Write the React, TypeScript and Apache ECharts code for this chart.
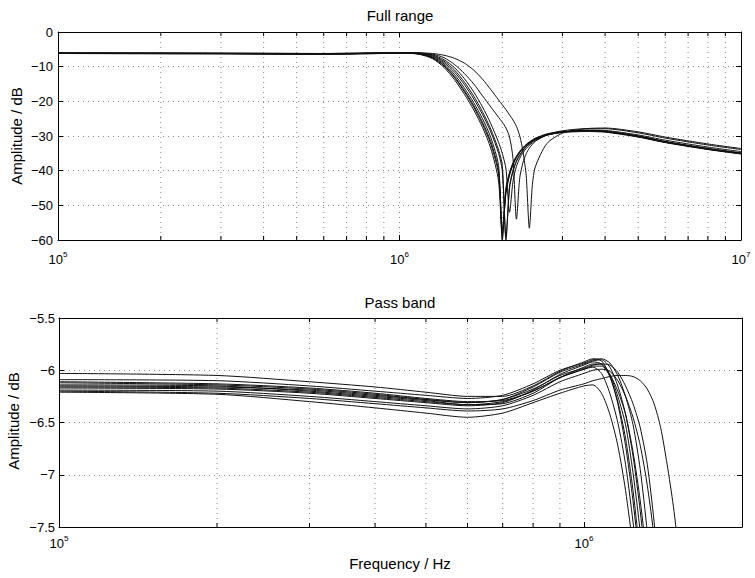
import { useEffect, useRef } from 'react';
import * as echarts from 'echarts';

// ---------- Data ----------
const FREQ_FULL = [1e5, 3e5, 6e5, 9e5, 1.05e6, 1.15e6, 1.25e6, 1.35e6, 1.45e6, 1.55e6, 1.65e6, 1.75e6, 1.85e6, 1.95e6, 2.0e6, 2.05e6, 2.1e6, 2.15e6, 2.2e6, 2.25e6, 2.3e6, 2.35e6, 2.4e6, 2.45e6, 2.5e6, 2.7e6, 3.0e6, 3.5e6, 4.0e6, 5.0e6, 6.0e6, 8.0e6, 1e7];

const FULL_B1 = [-6.1, -6.2, -6.3, -6.1, -6.0, -6.4, -7.5, -9.8, -13.2, -17.3, -21.7, -26.6, -32.3, -41.0, -59.0, -46.0, -41.0, -38.0, -36.0, -34.6, -33.5, -32.6, -31.9, -31.3, -30.8, -29.6, -28.8, -28.5, -28.7, -30.1, -31.7, -33.7, -35.0];
const FULL_B2 = [-6.2, -6.3, -6.4, -6.2, -6.1, -6.5, -7.7, -10.2, -13.8, -18.0, -22.5, -27.5, -33.5, -43.0, -60.0, -45.0, -40.5, -37.7, -35.8, -34.4, -33.3, -32.4, -31.7, -31.1, -30.6, -29.4, -28.7, -28.4, -28.6, -30.0, -31.6, -33.6, -34.9];
const FULL_B3 = [-6.0, -6.1, -6.2, -6.0, -5.95, -6.2, -7.0, -8.8, -11.6, -15.2, -19.3, -23.8, -28.8, -35.0, -40.0, -59.0, -45.0, -40.2, -37.4, -35.6, -34.2, -33.1, -32.3, -31.6, -31.0, -29.6, -28.8, -28.4, -28.6, -30.0, -31.6, -33.6, -34.9];
const FULL_B4 = [-6.1, -6.2, -6.3, -6.1, -6.0, -6.4, -7.4, -9.6, -12.9, -16.9, -21.2, -26.0, -31.6, -40.0, -57.0, -45.5, -40.8, -38.0, -36.1, -34.7, -33.6, -32.7, -32.0, -31.4, -30.9, -29.7, -29.0, -28.7, -28.9, -30.3, -31.9, -33.9, -35.2];
const FULL_B5 = [-6.2, -6.2, -6.3, -6.1, -5.95, -6.15, -6.8, -8.4, -11.0, -14.5, -18.5, -23.0, -28.0, -34.0, -38.5, -60.0, -44.5, -39.8, -37.1, -35.4, -34.1, -33.1, -32.3, -31.6, -31.1, -29.7, -28.9, -28.5, -28.7, -30.2, -31.8, -33.8, -35.1];
const FULL_B6 = [-6.1, -6.1, -6.2, -6.0, -6.0, -6.3, -7.2, -9.2, -12.3, -16.2, -20.4, -25.0, -30.4, -38.5, -58.0, -46.5, -41.3, -38.3, -36.2, -34.7, -33.5, -32.6, -31.9, -31.3, -30.8, -29.6, -28.8, -28.5, -28.7, -30.2, -31.8, -33.8, -35.1];
const FULL_B7 = [-6.1, -6.2, -6.3, -6.1, -5.95, -6.1, -6.6, -8.0, -10.3, -13.5, -17.3, -21.6, -26.4, -31.8, -35.0, -39.5, -52.0, -43.0, -38.8, -36.4, -34.8, -33.6, -32.7, -32.0, -31.4, -29.8, -28.9, -28.3, -28.4, -29.7, -31.2, -33.2, -34.5];
const FULL_T6 = [-6.1, -6.2, -6.3, -6.1, -5.95, -6.05, -6.4, -7.4, -9.4, -12.0, -15.0, -18.4, -21.6, -24.6, -26.0, -27.7, -30.3, -36.5, -54.0, -42.0, -37.6, -35.1, -33.5, -32.4, -31.5, -29.6, -28.5, -27.9, -27.9, -29.1, -30.6, -32.6, -33.9];
const FULL_T7 = [-6.2, -6.3, -6.4, -6.2, -6.1, -6.05, -6.2, -6.7, -7.6, -9.0, -11.0, -13.6, -16.6, -19.6, -21.0, -22.4, -23.9, -25.4, -27.2, -30.0, -34.5, -41.5, -56.6, -44.0, -38.8, -32.2, -29.2, -27.9, -27.7, -28.8, -30.3, -32.3, -33.6];
const FULL_CURVES = [FULL_B1, FULL_B2, FULL_B3, FULL_B4, FULL_B5, FULL_B6, FULL_B7, FULL_T6, FULL_T7];

const FREQ_PASS = [1e5, 2e5, 3e5, 4e5, 5e5, 6e5, 7e5, 8e5, 9e5, 1e6, 1.04e6, 1.08e6, 1.12e6, 1.16e6, 1.2e6, 1.24e6, 1.28e6, 1.32e6, 1.36e6, 1.4e6, 1.44e6, 1.48e6, 1.52e6, 1.56e6];

const PASS_D1 = [-6.21, -6.23, -6.30, -6.36, -6.41, -6.45, -6.41, -6.31, -6.22, -6.15, -6.14, -6.22, -6.42, -6.72, -7.15, -7.70, -8.40, -9.20];
const PASS_D2 = [-6.11, -6.13, -6.17, -6.22, -6.27, -6.30, -6.29, -6.20, -6.07, -5.99, -5.97, -6.03, -6.22, -6.50, -6.90, -7.45, -8.10, -8.90];
const PASS_D3 = [-6.03, -6.05, -6.11, -6.16, -6.21, -6.25, -6.25, -6.15, -6.01, -5.92, -5.89, -5.91, -6.05, -6.32, -6.72, -7.25, -7.90, -8.70];
const PASS_D4 = [-6.14, -6.15, -6.20, -6.25, -6.29, -6.33, -6.32, -6.22, -6.07, -5.97, -5.94, -5.94, -6.04, -6.25, -6.52, -6.98, -7.55, -8.25, -9.00];
const PASS_D5 = [-6.16, -6.17, -6.21, -6.26, -6.30, -6.33, -6.30, -6.20, -6.07, -5.99, -5.96, -5.96, -6.04, -6.20, -6.42, -6.78, -7.25, -7.85, -8.60];
const PASS_D6 = [-6.09, -6.10, -6.15, -6.20, -6.24, -6.27, -6.24, -6.13, -6.00, -5.93, -5.90, -5.89, -5.93, -6.05, -6.25, -6.52, -6.95, -7.55, -8.30];
const PASS_D7 = [-6.19, -6.20, -6.25, -6.30, -6.34, -6.37, -6.34, -6.24, -6.11, -6.03, -6.00, -5.99, -6.01, -6.10, -6.25, -6.45, -6.72, -7.10, -7.60, -8.30];
const PASS_D8 = [-6.15, -6.16, -6.19, -6.24, -6.28, -6.31, -6.28, -6.18, -6.05, -5.98, -5.95, -5.94, -5.95, -6.02, -6.15, -6.32, -6.55, -6.90, -7.45, -8.20];
const PASS_D9 = [-6.20, -6.22, -6.27, -6.32, -6.36, -6.39, -6.37, -6.29, -6.19, -6.13, -6.10, -6.08, -6.06, -6.05, -6.05, -6.06, -6.10, -6.18, -6.32, -6.55, -6.90, -7.30, -7.80, -8.40];
const PASS_D10 = [-6.17, -6.18, -6.22, -6.27, -6.31, -6.34, -6.31, -6.19, -6.04, -5.95, -5.92, -5.94, -6.06, -6.30, -6.65, -7.15, -7.80, -8.60];
const PASS_D11 = [-6.12, -6.14, -6.18, -6.23, -6.28, -6.31, -6.28, -6.16, -6.02, -5.94, -5.91, -5.90, -5.97, -6.15, -6.42, -6.82, -7.35, -8.00, -8.80];
const PASS_CURVES = [PASS_D1, PASS_D2, PASS_D3, PASS_D4, PASS_D5, PASS_D6, PASS_D7, PASS_D8, PASS_D9, PASS_D10, PASS_D11];

// axis ranges / ticks
const FULL_X = { min: 1e5, max: 1e7 };
const FULL_Y = { min: -60, max: 0, interval: 10 };
const PASS_X = { min: 1e5, max: 2e6 };
const PASS_Y = { min: -7.5, max: -5.5, interval: 0.5 };
const MINOR_FULL = [2e5, 3e5, 4e5, 5e5, 6e5, 7e5, 8e5, 9e5, 2e6, 3e6, 4e6, 5e6, 6e6, 7e6, 8e6, 9e6];
const MINOR_PASS = [2e5, 3e5, 4e5, 5e5, 6e5, 7e5, 8e5, 9e5];

const TITLES = ['Full range', 'Pass band'];
const X_NAME = 'Frequency / Hz';
const Y_NAME = 'Amplitude / dB';

// ---------- Styling ----------
const FONT = '"Liberation Sans", Arial, Helvetica, sans-serif';
const DOT = { color: '#8c8c8c', width: 1, type: [1, 4] as number[] };
const BLACK = '#000';

const minus = (v: number) => String(v).replace('-', '\u2212');
const logLabel = (v: number) => {
  const e = Math.round(Math.log10(v));
  if (Math.abs(Math.pow(10, e) - v) > 1e-6 * v) return '';
  return `{b|10}{s|${e}}`;
};

function xAxes(gridIndex: number, range: { min: number; max: number }, margin: number) {
  return [
    {
      gridIndex, type: 'log', logBase: 10, min: range.min, max: range.max, position: 'bottom',
      axisLine: { show: true, onZero: false, lineStyle: { color: BLACK, width: 1 } },
      axisTick: { show: true, inside: true, length: 5, lineStyle: { color: BLACK, width: 1 } },
      splitLine: { show: true, lineStyle: DOT },
      minorTick: { show: false }, minorSplitLine: { show: false },
      axisLabel: {
        show: true, margin, formatter: logLabel, color: BLACK,
        rich: {
          b: { fontSize: 13, fontFamily: FONT, color: BLACK, lineHeight: 18 },
          s: { fontSize: 8, fontFamily: FONT, color: BLACK, lineHeight: 8, verticalAlign: 'top' },
        },
      },
    },
    {
      gridIndex, type: 'log', logBase: 10, min: range.min, max: range.max, position: 'top',
      axisLine: { show: true, onZero: false, lineStyle: { color: BLACK, width: 1 } },
      axisTick: { show: true, inside: true, length: 5, lineStyle: { color: BLACK, width: 1 } },
      splitLine: { show: false }, axisLabel: { show: false },
    },
  ];
}

function yAxes(gridIndex: number, range: { min: number; max: number; interval: number }, margin: number) {
  return [
    {
      gridIndex, type: 'value', min: range.min, max: range.max, interval: range.interval, position: 'left',
      axisLine: { show: true, onZero: false, lineStyle: { color: BLACK, width: 1 } },
      axisTick: { show: true, inside: true, length: 5, lineStyle: { color: BLACK, width: 1 } },
      splitLine: { show: true, lineStyle: DOT },
      axisLabel: { show: true, margin, formatter: minus, color: BLACK, fontSize: 13, fontFamily: FONT },
    },
    {
      gridIndex, type: 'value', min: range.min, max: range.max, interval: range.interval, position: 'right',
      axisLine: { show: true, onZero: false, lineStyle: { color: BLACK, width: 1 } },
      axisTick: { show: true, inside: true, length: 5, lineStyle: { color: BLACK, width: 1 } },
      splitLine: { show: false }, axisLabel: { show: false },
    },
  ];
}

function curveSeries(freq: number[], curves: number[][], axisIndex: number) {
  return curves.map((vals) => ({
    type: 'line', xAxisIndex: axisIndex, yAxisIndex: axisIndex,
    data: vals.map((v, i) => [freq[i], v]),
    symbol: 'none', showSymbol: false, smooth: 0.25, silent: true, clip: true, z: 3,
    lineStyle: { color: '#111', width: 1 },
  }));
}

function minorSeries(values: number[], axisIndex: number, y: { min: number; max: number }) {
  return {
    type: 'custom', xAxisIndex: axisIndex, yAxisIndex: axisIndex, silent: true, z: 1,
    data: values.map((v) => [v, y.min]),
    renderItem: (_p: any, api: any) => {
      const x = api.value(0);
      const top = api.coord([x, y.max]);
      const bot = api.coord([x, y.min]);
      return {
        type: 'group',
        children: [
          { type: 'line', shape: { x1: top[0], y1: top[1], x2: bot[0], y2: bot[1] }, style: { stroke: DOT.color, lineWidth: 1, lineDash: DOT.type } },
          { type: 'line', shape: { x1: top[0], y1: top[1], x2: top[0], y2: top[1] + 4 }, style: { stroke: BLACK, lineWidth: 1 } },
          { type: 'line', shape: { x1: bot[0], y1: bot[1], x2: bot[0], y2: bot[1] - 4 }, style: { stroke: BLACK, lineWidth: 1 } },
        ],
      };
    },
  };
}

const textStyle = (text: string) => ({ text, fill: BLACK, font: `15px ${FONT}`, align: 'center', verticalAlign: 'middle' });

const option: any = {
  animation: false,
  backgroundColor: '#fff',
  grid: [
    { left: 58, top: 32, width: 683, height: 208, containLabel: false, outerBoundsMode: 'none' },
    { left: 59, top: 318, width: 683, height: 209, containLabel: false, outerBoundsMode: 'none' },
  ],
  xAxis: [...xAxes(0, FULL_X, 10), ...xAxes(1, PASS_X, 7)],
  yAxis: [...yAxes(0, FULL_Y, 5), ...yAxes(1, PASS_Y, 4)],
  series: [
    minorSeries(MINOR_FULL, 0, FULL_Y),
    minorSeries(MINOR_PASS, 2, PASS_Y),
    ...curveSeries(FREQ_FULL, FULL_CURVES, 0),
    ...curveSeries(FREQ_PASS, PASS_CURVES, 2),
  ],
  graphic: [
    { type: 'text', x: 400, y: 15.5, style: textStyle(TITLES[0]) },
    { type: 'text', x: 400, y: 302, style: textStyle(TITLES[1]) },
    { type: 'text', x: 400, y: 563, style: textStyle(X_NAME) },
    { type: 'text', x: 16.5, y: 136, rotation: Math.PI / 2, style: textStyle(Y_NAME) },
    { type: 'text', x: 13.5, y: 421, rotation: Math.PI / 2, style: textStyle(Y_NAME) },
  ],
};

export default function App() {
  const ref = useRef<HTMLDivElement>(null);
  useEffect(() => {
    if (!ref.current) return;
    const chart = echarts.init(ref.current, null, { renderer: 'svg' });
    chart.setOption(option);
    return () => chart.dispose();
  }, []);
  return <div ref={ref} style={{ position: 'fixed', left: 0, top: 0, width: 755, height: 578, background: '#fff' }} />;
}
